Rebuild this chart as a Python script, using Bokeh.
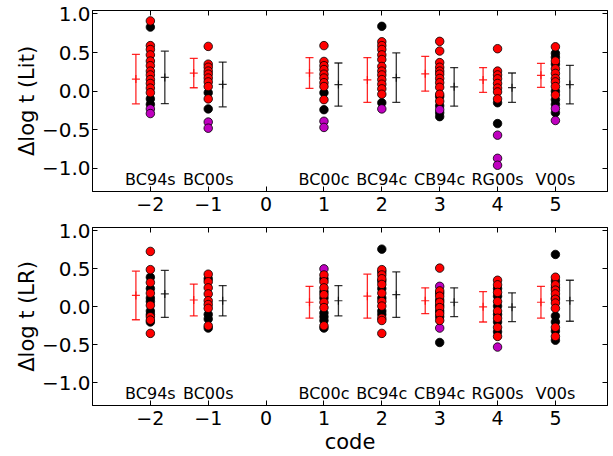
from bokeh.plotting import figure
from bokeh.layouts import column
from bokeh.models import (ColumnDataSource, Whisker, TeeHead, LinearAxis, FixedTicker,
                          Range1d, CustomJSTickFormatter)
from bokeh.transform import dodge
from bokeh.core.properties import value
from bokeh.embed import file_html
from bokeh.resources import INLINE

# ---------------- data ----------------
codes = [-2, -1, 1, 2, 3, 4, 5]
names = ["BC94s", "BC00s", "BC00c", "BC94c", "CB94c", "RG00s", "V00s"]
x_ticks = [-2, -1, 0, 1, 2, 3, 4, 5]
x_tick_labels = ["\u22122", "\u22121", "0", "1", "2", "3", "4", "5"]
y_ticks = [-1.0, -0.5, 0.0, 0.5, 1.0]
y_tick_labels = ["\u22121.0", "\u22120.5", "0.0", "0.5", "1.0"]

# top panel: Delta log t (Lit)
lit_black = {-2: [0.83, -0.10, -0.17], -1: [-0.02, -0.23], 1: [-0.02, -0.24],
             2: [0.84, -0.15], 3: [-0.07, -0.19, -0.28, -0.33], 4: [-0.15, -0.42],
             5: [0.49, 0.44, 0.35, 0.0, -0.11, -0.17, -0.28]}
lit_purple = {-2: [-0.23, -0.29], -1: [-0.40, -0.48], 1: [-0.39, -0.47], 2: [-0.23],
              3: [-0.24], 4: [-0.57, -0.87, -0.96], 5: [-0.225, -0.38]}
lit_red = {-2: [0.91, 0.59, 0.54, 0.47, 0.39, 0.33, 0.26, 0.21, 0.15, 0.10, 0.04, -0.02],
           -1: [0.58, 0.35, 0.31, 0.26, 0.22, 0.17, 0.12, 0.06, -0.10],
           1: [0.59, 0.385, 0.33, 0.28, 0.22, 0.17, 0.11, 0.06, -0.11],
           2: [0.64, 0.59, 0.54, 0.47, 0.41, 0.32, 0.26, 0.21, 0.15, 0.09, 0.03, -0.04],
           3: [0.645, 0.52, 0.37, 0.31, 0.26, 0.22, 0.165, 0.11, 0.05, -0.04, -0.13],
           4: [0.55, 0.26, 0.21, 0.16, 0.10, 0.04, -0.01, -0.10],
           5: [0.575, 0.39, 0.29, 0.23, 0.165, 0.12, 0.06, -0.05]}
lit_red_mean = [0.156, 0.234, 0.235, 0.145, 0.225, 0.145, 0.205]
lit_red_err = [0.32, 0.19, 0.20, 0.29, 0.225, 0.16, 0.155]
lit_black_mean = [0.178, 0.087, 0.085, 0.175, 0.056, 0.045, 0.085]
lit_black_err = [0.34, 0.29, 0.28, 0.32, 0.25, 0.19, 0.25]

# bottom panel: Delta log t (LR)
lr_black = {-2: [0.39, 0.24, 0.115, 0.07, -0.055, -0.10, -0.20],
            -1: [0.37, -0.10, -0.16, -0.28],
            1: [0.37, 0.20, 0.115, -0.08, -0.13, -0.18, -0.28],
            2: [0.76, 0.46, 0.34, 0.24, 0.115, -0.055, -0.10],
            3: [0.18, 0.09, 0.02, -0.055, -0.13, -0.47],
            4: [0.24, 0.14, 0.01, -0.10, -0.20, -0.33],
            5: [0.69, 0.34, 0.25, 0.115, -0.12, -0.20, -0.32, -0.44]}
lr_purple = {-2: [], -1: [], 1: [0.50], 2: [], 3: [0.27, -0.28], 4: [-0.53], 5: []}
lr_red = {-2: [0.73, 0.49, 0.32, 0.18, 0.02, -0.13, -0.175, -0.35],
          -1: [0.43, 0.33, 0.25, 0.17, 0.08, 0.03, -0.02, -0.25],
          1: [0.42, 0.33, 0.25, 0.16, 0.06, -0.01, -0.25],
          2: [0.49, 0.42, 0.37, 0.295, 0.18, 0.07, 0.01, -0.15, -0.18, -0.35],
          3: [0.51, 0.21, 0.14, 0.06, -0.01, -0.09, -0.18],
          4: [0.35, 0.29, 0.19, 0.07, -0.055, -0.15, -0.27, -0.39],
          5: [0.39, 0.29, 0.22, 0.17, 0.10, 0.05, -0.02, -0.27, -0.39]}
lr_red_mean = [0.15, 0.09, 0.06, 0.14, 0.08, 0.0, 0.06]
lr_red_err = [0.32, 0.21, 0.21, 0.29, 0.17, 0.20, 0.21]
lr_black_mean = [0.17, 0.08, 0.08, 0.16, 0.06, -0.005, 0.08]
lr_black_err = [0.31, 0.20, 0.20, 0.30, 0.19, 0.19, 0.27]

FONT = "DejaVu Sans"
RED = "#ff0000"
PURPLE = "#bf00bf"


def flat(d):
    xs, ys = [], []
    for c in codes:
        for v in d[c]:
            xs.append(c)
            ys.append(v)
    return ColumnDataSource(dict(code=xs, val=ys))


def style_axis(ax, size):
    ax.major_tick_in = 5
    ax.major_tick_out = 0
    ax.minor_tick_in = 0
    ax.minor_tick_out = 0
    ax.axis_line_color = "black"
    ax.major_tick_line_color = "black"
    ax.major_label_text_font = FONT
    ax.major_label_text_font_size = size
    ax.major_label_text_color = "black"
    ax.major_label_text_line_height = 1.0
    ax.axis_label_text_font = FONT
    ax.axis_label_text_font_size = "21px"
    ax.axis_label_text_font_style = "normal"
    ax.axis_label_text_color = "black"
    ax.axis_label_text_line_height = 1.0


def panel(ylabel, black, purple, red, rmean, rerr, bmean, berr, height, btop, bbottom, xlabel):
    p = figure(width=613, height=height, x_range=Range1d(-3, 5.9), y_range=Range1d(-1.3, 1.045),
               output_backend="svg", toolbar_location=None,
               min_border_left=92, min_border_right=6, min_border_top=btop, min_border_bottom=bbottom)
    p.grid.visible = False
    p.outline_line_color = "black"
    p.outline_line_width = 1
    p.background_fill_color = "white"
    p.border_fill_color = "white"

    p.xaxis.ticker = FixedTicker(ticks=x_ticks)
    p.xaxis.major_label_overrides = dict(zip(x_ticks, x_tick_labels))
    p.yaxis.ticker = FixedTicker(ticks=y_ticks)
    p.yaxis.major_label_overrides = dict(zip(y_ticks, y_tick_labels))
    for ax in p.xaxis:
        style_axis(ax, "19px")
    for ax in p.yaxis:
        style_axis(ax, "20px")
    p.xaxis.major_label_standoff = 5
    p.yaxis.major_label_standoff = 2
    p.yaxis.axis_label = ylabel
    p.yaxis.axis_label_standoff = 0
    if xlabel:
        p.xaxis.axis_label = xlabel
        p.xaxis.axis_label_standoff = 2

    empty = CustomJSTickFormatter(code="return ''")
    top = LinearAxis(ticker=FixedTicker(ticks=x_ticks), formatter=empty, major_label_standoff=0)
    right = LinearAxis(ticker=FixedTicker(ticks=y_ticks), formatter=empty, major_label_standoff=0)
    for ax in (top, right):
        style_axis(ax, "19px")
    p.add_layout(top, "above")
    p.add_layout(right, "right")

    # error bars
    for mean, err, col, off, alpha in ((rmean, rerr, RED, -0.25, 0.85), (bmean, berr, "black", 0.25, 0.8)):
        src = ColumnDataSource(dict(code=codes, mean=mean,
                                    upper=[m + e for m, e in zip(mean, err)],
                                    lower=[m - e for m, e in zip(mean, err)]))
        base = dodge("code", off, range=p.x_range)
        w = Whisker(base=base, upper="upper", lower="lower", source=src, dimension="height",
                    line_color=col, line_width=1.3, line_alpha=alpha,
                    upper_head=TeeHead(size=8, line_color=col, line_width=1.3, line_alpha=alpha),
                    lower_head=TeeHead(size=8, line_color=col, line_width=1.3, line_alpha=alpha))
        p.add_layout(w)
        p.scatter(x=base, y="mean", source=src, marker="cross", size=8, line_color=col,
                  line_alpha=alpha, line_width=1.2)

    # points
    for d, col in ((black, "black"), (purple, PURPLE), (red, RED)):
        p.scatter(x="code", y="val", source=flat(d), size=8.5, fill_color=col,
                  line_color="black", line_width=0.8)

    # survey names
    p.text(x="code", y=-1.14, text="name", source=ColumnDataSource(dict(code=codes, name=names)),
           text_font=value(FONT), text_font_size="16px", text_align="center",
           text_baseline="middle", text_color="black")
    return p


p1 = panel("\u0394log t (Lit)", lit_black, lit_purple, lit_red, lit_red_mean, lit_red_err,
           lit_black_mean, lit_black_err, 219, 10, 28, None)
p2 = panel("\u0394log t (LR)", lr_black, lr_purple, lr_red, lr_red_mean, lr_red_err,
           lr_black_mean, lr_black_err, 237, 8, 47, "code")

layout = column(p1, p2, spacing=0)
open("out.html", "w").write(file_html(layout, INLINE))
